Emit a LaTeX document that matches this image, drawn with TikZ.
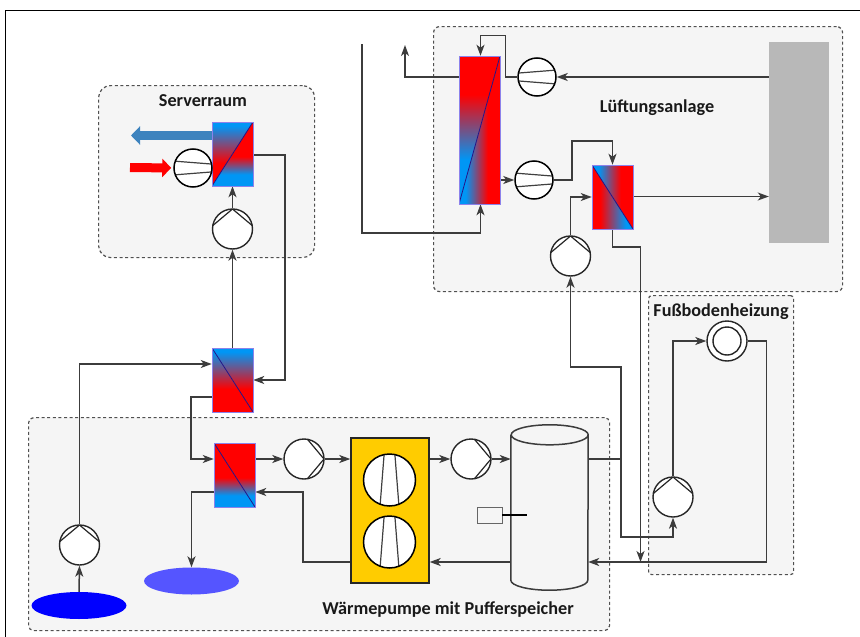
\documentclass[tikz,border=0pt]{standalone}
\usepackage{fontspec}
\setmainfont{Carlito}
\usetikzlibrary{arrows.meta}
\usetikzlibrary{shapes.geometric}
\pgfdeclarelayer{zonelayer}
\pgfdeclarelayer{edgelayer}
\pgfdeclarelayer{nodelayer}
\pgfsetlayers{zonelayer,edgelayer,nodelayer,main}
\definecolor{hot}{RGB}{255,0,0}
\definecolor{cold}{RGB}{0,150,245}
\definecolor{hxedge}{RGB}{140,130,235}
\definecolor{hxdiag}{RGB}{35,20,135}
\definecolor{zonefill}{RGB}{245,245,245}
\definecolor{zoneedge}{RGB}{80,80,80}
\definecolor{pipe}{RGB}{60,60,60}
\definecolor{exhaust}{RGB}{61,131,190}
\pgfdeclareverticalshading{coldtop}{100bp}{color(0bp)=(hot); color(43bp)=(hot); color(72bp)=(cold); color(100bp)=(cold)}
\pgfdeclareverticalshading{coldbottom}{100bp}{color(0bp)=(cold); color(34bp)=(cold); color(48bp)=(hot); color(100bp)=(hot)}
\pgfdeclareverticalshading{coldlow}{100bp}{color(0bp)=(cold); color(40bp)=(cold); color(62bp)=(hot); color(100bp)=(hot)}
\pgfdeclarehorizontalshading{coldleft}{100bp}{color(0bp)=(cold); color(33bp)=(cold); color(60bp)=(hot); color(100bp)=(hot)}
\pgfdeclarehorizontalshading{coldright}{100bp}{color(0bp)=(hot); color(35bp)=(hot); color(66bp)=(cold); color(100bp)=(cold)}
\tikzstyle{zone}=[rectangle,draw=zoneedge,fill=zonefill,line width=1.2pt,dash pattern=on 3pt off 2.6pt,anchor=north west,inner sep=0pt]
\tikzstyle{title}=[font=\bfseries\fontsize{18.2}{21}\selectfont,text=black!90,inner sep=0pt]
\tikzstyle{flow}=[-{Stealth[length=11pt,width=8pt,inset=3pt]},draw=pipe,line width=1.5pt]
\tikzstyle{line}=[draw=pipe,line width=1.5pt]
\tikzstyle{hx}=[rectangle,draw=hxedge,line width=0.5pt,inner sep=0pt,minimum width=41pt,minimum height=64pt]
\tikzstyle{pond}=[ellipse,inner sep=0pt,minimum width=95pt,minimum height=27pt]
\tikzset{
	pump/.style={circle,draw=black!85,fill=white,line width=1.4pt,inner sep=0pt,minimum size=40pt,path picture={
		\draw [line width=1.2pt,draw=black!85] ([shift={(#1+80:20pt)}]path picture bounding box.center)
			-- ([shift={(#1:20pt)}]path picture bounding box.center)
			-- ([shift={(#1-80:20pt)}]path picture bounding box.center);}},
	fan/.style 2 args={circle,draw=black,fill=white,line width=1.5pt,inner sep=0pt,minimum size=2*#2 pt,path picture={
		\draw [line width=1.2pt,draw=black!75] ([shift={(#1+159:#2 pt)}]path picture bounding box.center)
			-- ([shift={(#1+12:#2 pt)}]path picture bounding box.center);
		\draw [line width=1.2pt,draw=black!75] ([shift={(#1-159:#2 pt)}]path picture bounding box.center)
			-- ([shift={(#1-12:#2 pt)}]path picture bounding box.center);}},
	hxrising/.style 2 args={style=hx,path picture={
		\shade [shading=#1] (path picture bounding box.north west) -- (path picture bounding box.south west) -- (path picture bounding box.north east) -- cycle;
		\shade [shading=#2] (path picture bounding box.south west) -- (path picture bounding box.south east) -- (path picture bounding box.north east) -- cycle;
		\draw [draw=hxdiag,line width=0.8pt] (path picture bounding box.south west) -- (path picture bounding box.north east);}},
	hxfalling/.style 2 args={style=hx,path picture={
		\shade [shading=#1] (path picture bounding box.north west) -- (path picture bounding box.north east) -- (path picture bounding box.south east) -- cycle;
		\shade [shading=#2] (path picture bounding box.north west) -- (path picture bounding box.south west) -- (path picture bounding box.south east) -- cycle;
		\draw [draw=hxdiag,line width=0.8pt] (path picture bounding box.north west) -- (path picture bounding box.south east);}},
	consumer/.style={circle,draw=black!85,fill=white,line width=1.4pt,inner sep=0pt,minimum size=40pt,path picture={
		\draw [line width=1.4pt,draw=black!85] (path picture bounding box.center) circle (14pt);}}
}
\begin{document}
\begin{tikzpicture}[x=1pt,y=-1pt]
	\useasboundingbox (0,0) rectangle (860,637);
	\begin{pgfonlayer}{zonelayer}
		\node [style=zone,rounded corners=12pt,minimum width=216pt,minimum height=172pt] (serverzone) at (98,85) {};
		\node [style=zone,rounded corners=6pt,minimum width=409pt,minimum height=265pt] (airzone) at (433,26) {};
		\node [style=zone,rounded corners=3pt,minimum width=145pt,minimum height=279pt] (floorzone) at (648,295) {};
		\node [style=zone,rounded corners=5pt,minimum width=581pt,minimum height=213pt] (plantzone) at (28,417) {};
		\coordinate (framelow) at (5.5,637);
		\coordinate (framecorner) at (5.5,10.5);
		\coordinate (frameend) at (860,10.5);
		\draw [line width=1.4pt,draw=black] (framelow) -- (framecorner) -- (frameend);
	\end{pgfonlayer}
	\begin{pgfonlayer}{nodelayer}
		\node [style=title] (servertitle) at (203,101) {Serverraum};
		\node [style=title] (airtitle) at (657,108) {Lüftungsanlage};
		\node [style=title] (floortitle) at (721,312) {Fußbodenheizung};
		\node [style=title] (planttitle) at (448,610) {Wärmepumpe mit Pufferspeicher};
		\node [style={hxrising={coldtop}{coldbottom}}] (serverhx) at (232.5,154) {};
		\node [style={hxfalling={coldtop}{coldtop}}] (linkhx) at (232.5,380) {};
		\node [style={hxfalling={coldbottom}{coldbottom}}] (planthx) at (234.5,475) {};
		\node [style={hxrising={coldlow}{coldleft}},minimum height=148pt] (recoveryhx) at (479.5,130) {};
		\node [style={hxfalling={coldleft}{coldright}}] (airhx) at (612.5,197) {};
		\node [style={fan={0}{19}}] (serverfan) at (193,168) {};
		\node [style={fan={180}{19}}] (exhaustfan) at (537,77) {};
		\node [style={fan={0}{19}}] (supplyfan) at (534,180) {};
		\node [style={pump=90}] (serverpump) at (232.5,229) {};
		\node [style={pump=90}] (airpump) at (570.5,256) {};
		\node [style={pump=90}] (wellpump) at (79.5,545) {};
		\node [style={pump=90}] (floorpump) at (673,497) {};
		\node [style={pump=0}] (sourcepump) at (304,459) {};
		\node [style={pump=0}] (loadpump) at (471,459) {};
		\node [style=consumer] (heating) at (727,341) {};
		\node [rectangle,fill=black!28,inner sep=0pt,minimum width=60pt,minimum height=201pt] (airblock) at (799,142.5) {};
		\node [rectangle,draw=black!85,fill={rgb,255:red,255;green,204;blue,0},line width=1.4pt,inner sep=0pt,minimum width=78pt,minimum height=145pt] (heatpump) at (390,510.5) {};
		\node [style={fan={90}{26}}] (upperstage) at (389.5,480) {};
		\node [style={fan={90}{26}}] (lowerstage) at (389.5,542) {};
		% tank body with its two end curves
		\node [rectangle,inner sep=0pt,minimum width=77pt,minimum height=145pt] (tank) at (549.5,507.5) {};
		\draw [style=line,fill=zonefill] (tank.north west) -- (tank.south west)
			arc [start angle=180,end angle=360,x radius=38.5pt,y radius=10pt] -- (tank.north east)
			arc [start angle=0,end angle=360,x radius=38.5pt,y radius=10pt];
		\node [rectangle,draw=black!60,fill=zonefill,line width=0.9pt,inner sep=0pt,minimum width=25pt,minimum height=16pt] (heater) at (489.5,515) {};
		\coordinate (heaterend) at (527,515);
		\draw [line width=2.4pt,draw=black] (heater.east) -- (heaterend);
		\node [style=pond,fill={rgb,255:red,0;green,0;blue,255}] (wellpond) at (79,605.5) {};
		\node [style=pond,fill={rgb,255:red,85;green,85;blue,255}] (returnpond) at (191.5,581) {};
		% air side arrows
		\coordinate (exhaustend) at (131,135.5);
		\coordinate (roomstart) at (130,167.5);
		\draw [-{Triangle[length=9pt,width=18pt]},line width=9pt,draw=exhaust] (serverhx.west |- exhaustend) -- (exhaustend);
		\draw [-{Triangle[length=9pt,width=18pt]},line width=9pt,draw=hot,shorten >=2pt] (roomstart) -- (serverfan.west);
	\end{pgfonlayer}
	\begin{pgfonlayer}{edgelayer}
		\coordinate (freetop) at (362,44);
		\coordinate (outlettop) at (405,45);
		\coordinate (branch) at (621,459);
		\draw [style=flow] (serverpump.north) to (serverhx.south);
		\draw [style=flow] (linkhx.north) to (serverpump.south);
		\draw [style=flow] (serverhx.east |- 0,155) -- (285,155) -- (285,380) -- (linkhx.east);
		\draw [style=flow] (wellpump.north) |- (linkhx.west |- 0,364);
		\draw [style=flow] (wellpond.north) to (wellpump.south);
		\draw [style=flow] (linkhx.west |- 0,397) -- (191,397) -- (191,459) -- (planthx.west |- 0,459);
		\draw [style=flow] (planthx.east |- 0,459) -- (sourcepump.west);
		\draw [style=flow] (sourcepump.east) -- (heatpump.west |- 0,459);
		\draw [style=flow] (heatpump.east |- 0,459) -- (loadpump.west);
		\draw [style=flow] (loadpump.east) -- (tank.west |- 0,459);
		\draw [style=flow] (heatpump.west |- 0,562) -- (303,562) -- (303,492) -- (planthx.east |- 0,492);
		\draw [style=flow] (planthx.west |- 0,492) -| (returnpond.north);
		\draw [style=flow] (tank.west |- 0,562) -- (heatpump.east |- 0,562);
		\draw [style=line] (tank.east |- 0,459) -- (branch);
		\draw [style=flow] (branch) -- (621,367) -- (570.5,367) -- (airpump.south);
		\draw [style=flow] (branch) -- (621,537) -- (673,537) -- (floorpump.south);
		\draw [style=flow] (floorpump.north) |- (heating.west);
		\draw [style=flow] (heating.east) -- (766.5,341) -- (766.5,562) -- (tank.east |- 0,562);
		\draw [style=flow] (airhx.south) -- (612.5,247) -- (640.5,247) -- (640.5,562);
		\draw [style=flow] (airhx.east |- 0,196.5) -- (airblock.west |- 0,196.5);
		\draw [style=flow] (airblock.west |- 0,77) -- (exhaustfan.east);
		\draw [style=flow] (exhaustfan.west) -- (505.5,77) -- (505.5,35.5) -- (480.5,35.5) -- (recoveryhx.north -| 480.5,0);
		\draw [style=flow] (recoveryhx.west |- 0,77) -| (outlettop);
		\draw [style=flow] (freetop) -- (362,233) -- (480.5,233) -- (recoveryhx.south -| 480.5,0);
		\draw [style=flow] (recoveryhx.east |- 0,180) -- (supplyfan.west);
		\draw [style=flow] (supplyfan.east) -- (572,180) -- (572,141) -- (612.5,141) -- (airhx.north);
		\draw [style=flow] (airpump.north) |- (airhx.west |- 0,197);
	\end{pgfonlayer}
\end{tikzpicture}
\end{document}
